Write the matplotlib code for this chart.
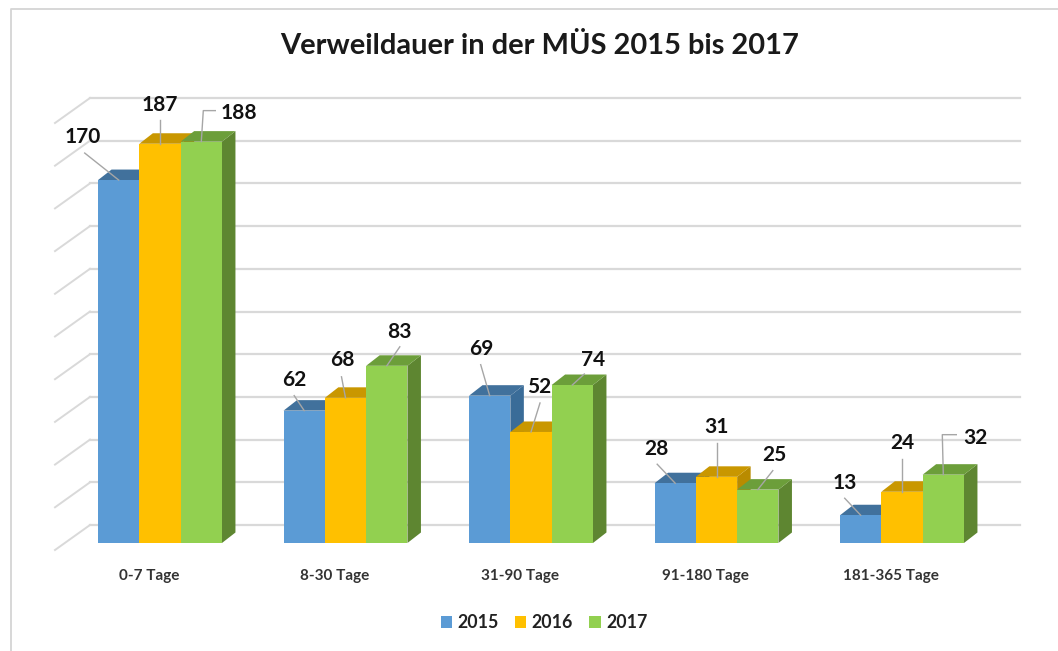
import matplotlib
matplotlib.use("Agg")
import matplotlib.pyplot as plt
from matplotlib.patches import Patch, Polygon
import numpy as np

plt.rcParams['font.family'] = ['Lato', 'DejaVu Sans']

categories = ['0-7 Tage', '8-30 Tage', '31-90 Tage', '91-180 Tage', '181-365 Tage']
years = ['2015', '2016', '2017']
values_2015 = [170, 62, 69, 28, 13]
values_2016 = [187, 68, 52, 31, 24]
values_2017 = [188, 83, 74, 25, 32]
grid_values = np.arange(0, 201, 20)

front = ['#5b9bd5', '#ffc000', '#92d050']
top = ['#41719c', '#c99700', '#6c9e3a']
side = ['#3a6c98', '#b98b00', '#5e8631']

# scale of the picture
W, H = 1058, 651
PX_X = 185.5   # pixels per category
PX_Y = 2.135   # pixels per unit
X0, Y0 = 160, 543  # pixel of first category / value 0


def dx(px):
    return px / PX_X


def dy(px):
    return px / PX_Y


fig = plt.figure(figsize=(W / 100, H / 100), dpi=100)
ax = fig.add_axes([0, 0, 1, 1])
ax.set_xlim(-X0 / PX_X, (W - X0) / PX_X)
ax.set_ylim(-(H - Y0) / PX_Y, Y0 / PX_Y)
ax.axis('off')

# frame of the picture
ax.plot([dx(10.5 - X0), dx(10.5 - X0), dx(W - X0)],
        [dy(Y0 - H), dy(Y0 - 8.5), dy(Y0 - 8.5)], color='#d4d4d4', lw=1.3)

# back wall and floor lines
wall_x = dx(90 - X0)
wall_end = dx(1020 - X0)
for g in grid_values:
    gy = g + dy(18)
    ax.plot([wall_x, wall_end], [gy, gy], color='#d9d9d9', lw=1.6, zorder=1)
    ax.plot([wall_x - dx(35), wall_x], [gy - dy(25), gy], color='#d9d9d9', lw=1.4, zorder=1)

# bars
bar_w = dx(41.3)
depth_x = dx(13.5)
depth_y = dy(10.5)
series = [values_2015, values_2016, values_2017]
z = 2
for c in range(len(categories)):
    for s, vals in enumerate(series):
        left = c - 1.5 * bar_w + s * bar_w
        right = left + bar_w
        v = vals[c]
        ax.add_patch(Polygon([(right, 0), (right + depth_x, depth_y), (right + depth_x, v + depth_y), (right, v)],
                             facecolor=side[s], edgecolor='none', zorder=z))
        ax.add_patch(Polygon([(left, v), (left + depth_x, v + depth_y), (right + depth_x, v + depth_y), (right, v)],
                             facecolor=top[s], edgecolor='none', zorder=z))
        ax.bar(left, v, width=bar_w, align='edge', color=front[s], zorder=z)
        z += 1

# data labels: text centre and leader line start, pixels from the bar's top centre
label_off = [
    [(-36, 45), (-10, 33), (-8, 49), (-19, 36), (-16, 34)],
    [(0, 41), (-3, 40), (8, 47), (0, 52), (0, 51)],
    [(38, 31), (13, 36), (21, 27), (17, 37), (32, 39)],
]
line_off = [
    [(-34, 27), (-10, 15), (-9, 31), (-18, 19), (-16, 17)],
    [(0, 24), (-4, 21), (9, 29), (0, 34), (0, 33)],
    [(2, 31), (13, 19), (12, 11), (15, 19), (-1, 40)],
]
elbow_end = {(2, 0): (14, 31), (2, 4): (13, 40)}
for s, vals in enumerate(series):
    for c, v in enumerate(vals):
        cx = c - bar_w + s * bar_w
        lx, ly = line_off[s][c]
        xs = [cx, cx + dx(lx)]
        ys = [v, v + dy(ly)]
        if (s, c) in elbow_end:
            ex, ey = elbow_end[(s, c)]
            xs.append(cx + dx(ex))
            ys.append(v + dy(ey))
        ax.plot(xs, ys, color='#a6a6a6', lw=1.0, zorder=50)
        tx, ty = label_off[s][c]
        ax.text(cx + dx(tx), v + dy(ty - 2), str(v), ha='center', va='center',
                fontsize=15, fontweight='bold', color='#111111', zorder=60)

# category labels
for c, name in enumerate(categories):
    ax.text(c - dx(11), dy(-33), name, ha='center', va='center',
            fontsize=11, fontweight='bold', color='#333333')

ax.text(dx(540 - X0), dy(Y0 - 46), 'Verweildauer in der MÜS 2015 bis 2017', ha='center', va='center',
        fontsize=20.9, fontweight='bold', color='#1a1a1a')

handles = [Patch(facecolor=front[i], label=years[i]) for i in range(3)]
ax.legend(handles=handles, ncol=3, frameon=False, loc='center',
          bbox_to_anchor=(544 / W, 1 - 622.5 / H), bbox_transform=ax.transAxes,
          prop={'size': 12.8, 'weight': 'bold'}, labelcolor='#222222',
          handlelength=0.65, handleheight=0.65, handletextpad=0.3, columnspacing=0.9)

fig.savefig('out.png', dpi=100)
